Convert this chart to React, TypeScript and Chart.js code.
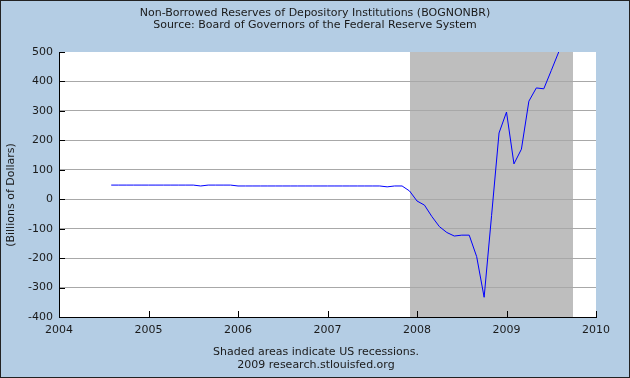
import React, { useEffect, useRef } from 'react';
import { Chart, registerables } from 'chart.js';

Chart.register(...registerables);

const TITLE_LINES = [
  'Non-Borrowed Reserves of Depository Institutions (BOGNONBR)',
  'Source: Board of Governors of the Federal Reserve System',
];
const FOOTER_LINES = ['Shaded areas indicate US recessions.', '2009 research.stlouisfed.org'];
const Y_TITLE = '(Billions of Dollars)';

const MONTHS = [
  '2004-08', '2004-09', '2004-10', '2004-11', '2004-12',
  '2005-01', '2005-02', '2005-03', '2005-04', '2005-05', '2005-06',
  '2005-07', '2005-08', '2005-09', '2005-10', '2005-11', '2005-12',
  '2006-01', '2006-02', '2006-03', '2006-04', '2006-05', '2006-06',
  '2006-07', '2006-08', '2006-09', '2006-10', '2006-11', '2006-12',
  '2007-01', '2007-02', '2007-03', '2007-04', '2007-05', '2007-06',
  '2007-07', '2007-08', '2007-09', '2007-10', '2007-11', '2007-12',
  '2008-01', '2008-02', '2008-03', '2008-04', '2008-05', '2008-06',
  '2008-07', '2008-08', '2008-09', '2008-10', '2008-11', '2008-12',
  '2009-01', '2009-02', '2009-03', '2009-04', '2009-05', '2009-06',
  '2009-07', '2009-08',
];
const VALUES = [
  48, 48, 48, 48, 48,
  48, 48, 48, 48, 48, 48,
  48, 45, 48, 48, 48, 48,
  45, 45, 45, 45, 45, 45,
  45, 45, 45, 45, 45, 45,
  45, 45, 45, 45, 45, 45,
  45, 45, 42, 45, 45, 28,
  -6, -20, -59, -93, -113, -125,
  -122, -122, -195, -333, -55, 225,
  296, 120, 170, 333, 378, 375,
  437, 500,
];

const RECESSION_START = 2007.917;
const RECESSION_END = 2009.74;
const X_MIN = 2004;
const X_MAX = 2010;
const Y_MIN = -400;
const Y_MAX = 500;
const Y_STEP = 100;

const BG = 'rgb(180,205,228)';
const SHADE = 'rgb(190,190,190)';
const GRID = 'rgb(168,168,168)';
const TEXT = '#1a1a1a';
const FONT_FAMILY = '"DejaVu Sans", Verdana, sans-serif';

function toYear(m: string): number {
  const [y, mo] = m.split('-').map(Number);
  return y + (mo - 1) / 12;
}

const decorPlugin = {
  id: 'decor',
  beforeDraw(chart: any) {
    const { ctx, chartArea: a, scales } = chart;
    ctx.save();
    ctx.fillStyle = BG;
    ctx.fillRect(0, 0, chart.width, chart.height);
    ctx.fillStyle = '#ffffff';
    ctx.fillRect(a.left, a.top, a.right - a.left, a.bottom - a.top);
    const x0 = Math.round(scales.x.getPixelForValue(RECESSION_START));
    const x1 = Math.round(scales.x.getPixelForValue(RECESSION_END));
    ctx.fillStyle = SHADE;
    ctx.fillRect(x0, a.top, x1 - x0, a.bottom - a.top);
    ctx.restore();
  },
  afterDraw(chart: any) {
    const { ctx, chartArea: a, scales } = chart;
    ctx.save();
    // inward tick marks
    ctx.strokeStyle = '#000';
    ctx.lineWidth = 1;
    ctx.beginPath();
    scales.y.ticks.forEach((t: any) => {
      const y = Math.round(scales.y.getPixelForValue(t.value)) + 0.5;
      ctx.moveTo(a.left, y);
      ctx.lineTo(a.left + 6, y);
    });
    scales.x.ticks.forEach((t: any) => {
      const x = Math.round(scales.x.getPixelForValue(t.value)) + 0.5;
      ctx.moveTo(x, a.bottom);
      ctx.lineTo(x, a.bottom - 6);
    });
    ctx.stroke();

    ctx.fillStyle = TEXT;
    ctx.font = `11px ${FONT_FAMILY}`;
    ctx.textAlign = 'center';
    ctx.textBaseline = 'middle';
    ctx.fillText(TITLE_LINES[0], 315, 13);
    ctx.fillText(TITLE_LINES[1], 315, 25);
    ctx.fillText(FOOTER_LINES[0], 316, 352);
    ctx.fillText(FOOTER_LINES[1], 316, 365);

    ctx.save();
    ctx.translate(11, 195);
    ctx.rotate(-Math.PI / 2);
    ctx.fillText(Y_TITLE, 0, 0);
    ctx.restore();

    ctx.strokeStyle = '#222';
    ctx.strokeRect(0.5, 0.5, chart.width - 1, chart.height - 1);
    ctx.restore();
  },
};

export default function App() {
  const ref = useRef<HTMLCanvasElement | null>(null);
  useEffect(() => {
    if (!ref.current) return;
    const points = MONTHS.map((m, i) => ({ x: toYear(m), y: VALUES[i] }));
    const tickFont = { family: FONT_FAMILY, size: 11 };
    const chart = new Chart(ref.current, {
      type: 'line',
      data: {
        datasets: [
          {
            data: points,
            borderColor: '#0000ff',
            borderWidth: 1,
            pointRadius: 0,
            tension: 0,
            fill: false,
          },
        ],
      },
      options: {
        animation: false,
        responsive: false,
        devicePixelRatio: 1,
        layout: { padding: { left: 0, top: 52, right: 34, bottom: 0 } },
        plugins: {
          legend: { display: false },
          tooltip: { enabled: false },
          title: { display: false },
        },
        scales: {
          x: {
            type: 'linear',
            min: X_MIN,
            max: X_MAX,
            ticks: {
              stepSize: 1,
              autoSkip: false,
              maxRotation: 0,
              padding: 7,
              color: TEXT,
              font: tickFont,
              callback: (v: any) => String(v),
            },
            grid: { display: false, drawTicks: false },
            border: { display: true, color: '#000', width: 1 },
            afterFit: (s: any) => {
              s.height = 61;
            },
          },
          y: {
            type: 'linear',
            min: Y_MIN,
            max: Y_MAX,
            ticks: {
              stepSize: Y_STEP,
              padding: 6,
              color: TEXT,
              font: tickFont,
              callback: (v: any) => String(v),
            },
            grid: {
              drawTicks: false,
              color: (c: any) =>
                c.tick && (c.tick.value === Y_MAX || c.tick.value === Y_MIN) ? 'rgba(0,0,0,0)' : GRID,
            },
            border: { display: true, color: '#000', width: 1 },
            afterFit: (s: any) => {
              s.width = 59;
            },
          },
        },
      },
      plugins: [decorPlugin],
    } as any);
    return () => chart.destroy();
  }, []);
  return (
    <div style={{ position: 'absolute', left: 0, top: 0, width: 630, height: 378 }}>
      <canvas ref={ref} width={630} height={378} style={{ display: 'block' }} />
    </div>
  );
}
